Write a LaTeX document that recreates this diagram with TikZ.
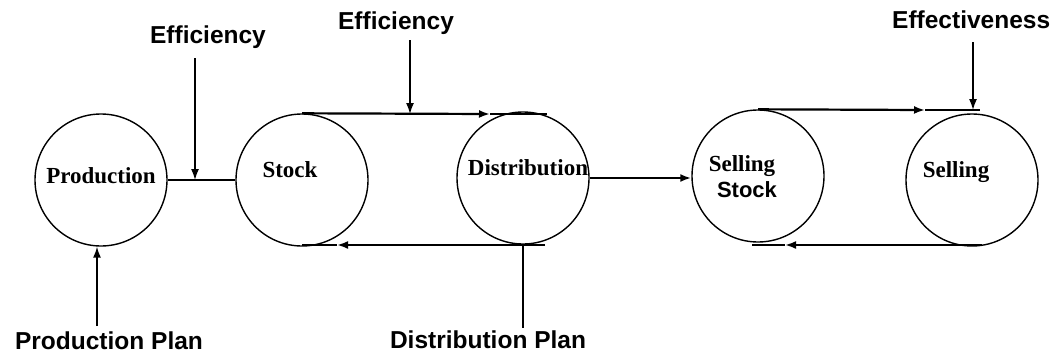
\documentclass[tikz,border=0pt]{standalone}
\usepackage{fontspec}
\setmainfont{Liberation Serif}
\setsansfont{Liberation Sans}
\usetikzlibrary{arrows.meta}

\tikzset{
  stage/.style={circle, draw, line width=1.4pt, minimum size=132pt, inner sep=0pt},
  stagetext/.style={font=\fontsize{23}{24}\selectfont\bfseries, inner sep=0pt},
  factor/.style={font=\fontsize{24.5}{26}\selectfont\sffamily\bfseries, inner sep=0pt},
  flow/.style={line width=2.2pt},
  push/.style={line width=1.5pt},
}

\begin{document}
\begin{tikzpicture}[x=1pt, y=-1pt, >={Latex[length=11pt,width=8pt]}]
  \useasboundingbox (0,0) rectangle (1060,354);

  % the five stages
  \node[stage] (prod) at (101,180) {};
  \node[stage] (stock) at (302,180) {};
  \node[stage] (dist) at (523,178) {};
  \node[stage] (sstock) at (758,176) {};
  \node[stage] (sell) at (972,180) {};

  \node[stagetext] (prodT) at (101,176) {Production};
  \node[stagetext] (stockT) at (290,170) {Stock};
  \node[stagetext] (distT) at (528,168) {Distribution};
  \node[stagetext] (sstockT) at (742,166) {Selling};
  \node[stagetext, font=\fontsize{22}{23}\selectfont\sffamily\bfseries] (sstockS) at (747,190) {Stock};
  \node[stagetext] (sellT) at (956,172) {Selling};

  % what acts on the stages
  \node[factor] (effA) at (208,37) {Efficiency};
  \node[factor] (effB) at (396,23) {Efficiency};
  \node[factor, anchor=west] (effC) at (892,20) {Effectiveness};
  \node[factor] (pplan) at (109,341) {Production Plan};
  \node[factor] (dplan) at (488,340) {Distribution Plan};

  \coordinate (e1) at (195,58);
  \coordinate (e2) at (410,40);
  \coordinate (e3) at (973,42);
  \coordinate (pp) at (97,326);
  \coordinate (dp) at (523,328);

  % production to stock
  \draw[line width=2.6pt] (prod.east) -- (stock.west);
  \draw[push,->] (e1) -- (e1 |- prod.east);
  \draw[push,->] (pp) -- (pp |- prod.south);

  % stock / distribution loop
  \coordinate (t1) at (490,114);
  \coordinate (t2) at (547,114);
  \coordinate (b1) at (545,245);
  \coordinate (b2) at (337,245);
  \draw[flow,->] (stock.north) -- (t1);
  \draw[flow] (t1) -- (t2);
  \draw[push,->] (e2) -- (e2 |- t1);
  \draw[flow,->] (b1) -- (b2);
  \draw[flow] (b2) -- (b2 -| stock.south);
  \draw[push] (dist.south) -- (dp);

  % distribution to selling stock
  \draw[flow,->] (dist.east) -- (dist.east -| sstock.west);

  % selling stock / selling loop
  \coordinate (t3) at (925,110);
  \coordinate (t4) at (980,110);
  \coordinate (b3) at (982,245);
  \coordinate (b4) at (785,245);
  \draw[flow,->] (sstock.north) -- (t3);
  \draw[flow] (t3) -- (t4);
  \draw[push,->] (e3) -- (e3 |- t3);
  \draw[flow,->] (b3) -- (b4);
  \draw[flow] (b4) -- (752,245);
\end{tikzpicture}
\end{document}
